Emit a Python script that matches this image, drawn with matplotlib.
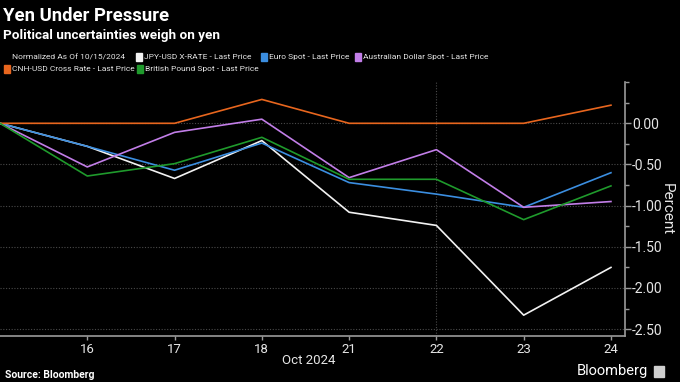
import matplotlib
matplotlib.use("Agg")
import matplotlib.pyplot as plt
from matplotlib.patches import Rectangle

plt.rcParams["font.family"] = ["Roboto", "DejaVu Sans"]

# ─── Data ────────────────────────────────────────────────────────────────────
days = ["15", "16", "17", "18", "21", "22", "23", "24"]
jpy = [0.0, -0.28, -0.67, -0.21, -1.08, -1.24, -2.33, -1.75]
eur = [0.0, -0.28, -0.57, -0.24, -0.72, -0.86, -1.02, -0.60]
aud = [0.0, -0.53, -0.11, 0.05, -0.66, -0.32, -1.02, -0.95]
cnh = [0.0, 0.0, 0.0, 0.29, 0.0, 0.0, 0.0, 0.22]
gbp = [0.0, -0.64, -0.49, -0.17, -0.68, -0.68, -1.17, -0.76]
yticks = [0.0, -0.5, -1.0, -1.5, -2.0, -2.5]

BG = "#000000"
TXT = "#e6e6e6"
GRID = "#4a4a4a"
SPINE = "#9a9a9a"

series = [
    ("JPY-USD X-RATE - Last Price", jpy, "#f2f2f2"),
    ("Euro Spot - Last Price", eur, "#3b8ee0"),
    ("Australian Dollar Spot - Last Price", aud, "#c27ee8"),
    ("CNH-USD Cross Rate - Last Price", cnh, "#e8661e"),
    ("British Pound Spot - Last Price", gbp, "#1f9a2c"),
]

fig = plt.figure(figsize=(6.8, 3.82), dpi=100)
fig.patch.set_facecolor(BG)
ax = fig.add_axes([0.0, 0.12, 0.919, 0.665])
ax.set_facecolor(BG)

x = list(range(len(days)))
for name, vals, col in series:
    ax.plot(x, vals, color=col, linewidth=1.2)

ax.set_xlim(0, 7.16)
ax.set_ylim(-2.585, 0.5)

# grid
for y in yticks:
    ax.axhline(y, color=GRID, linewidth=0.8, linestyle=(0, (1, 1.5)), zorder=0)
ax.axvline(5, color=GRID, linewidth=0.8, linestyle=(0, (1, 1.5)), zorder=0)

# axes styling
for s in ["top", "left"]:
    ax.spines[s].set_visible(False)
for s in ["right", "bottom"]:
    ax.spines[s].set_color(SPINE)
    ax.spines[s].set_linewidth(1.2)

ax.yaxis.tick_right()
ax.yaxis.set_label_position("right")
ax.set_yticks(yticks)
ax.set_yticklabels([f"{v:.2f}" for v in yticks])
ax.set_yticks([0.5, 0.25, -0.25, -0.75, -1.25, -1.75, -2.25], minor=True)
ax.tick_params(axis="y", which="major", colors=SPINE, labelcolor=TXT,
               labelsize=10, length=4, width=1, pad=1)
ax.tick_params(axis="y", which="minor", colors=SPINE, length=3, width=1)

ax.set_xticks(x[1:])
ax.set_xticklabels(days[1:])
ax.tick_params(axis="x", colors=SPINE, labelcolor=TXT, labelsize=9.5,
               length=3, width=1, pad=2)
ax.set_ylabel("Percent", color=TXT, fontsize=11, rotation=270, va="center")
ax.yaxis.set_label_coords(1.067, 0.5)

# ─── Texts ───────────────────────────────────────────────────────────────────
fig.text(0.004, 0.957, "Yen Under Pressure", color="white", fontsize=13.3,
         fontweight="bold", va="center", ha="left")
fig.text(0.004, 0.907, "Political uncertainties weigh on yen", color="white",
         fontsize=9.7, fontweight="bold", va="center", ha="left")

leg_fs = 6.0
fig.text(12 / 680, 1 - 57 / 382, "Normalized As Of 10/15/2024", color=TXT,
         fontsize=leg_fs, va="center", ha="left")
legend_pos = [(136, 57), (261, 57), (355, 57), (4, 69), (137, 69)]
for (name, vals, col), (px, py) in zip(series, legend_pos):
    fig.patches.append(Rectangle((px / 680, 1 - (py + 3.5) / 382), 6 / 680, 7 / 382,
                                 transform=fig.transFigure, color=col))
    fig.text((px + 8) / 680, 1 - py / 382, name, color=TXT, fontsize=leg_fs,
             va="center", ha="left")

fig.text(335 / 680, 1 - 360 / 382, "Oct 2024", color=TXT, fontsize=9.5,
         ha="right", va="center")
fig.text(5 / 680, 1 - 375 / 382, "Source: Bloomberg", color="white", fontsize=7.5,
         fontweight="bold", ha="left", va="center")
fig.text(648 / 680, 1 - 371 / 382, "Bloomberg", color="white", fontsize=10.5,
         ha="right", va="center")
fig.patches.append(Rectangle((654 / 680, 1 - 377 / 382), 10 / 680, 11 / 382,
                             transform=fig.transFigure, color="#cfcfcf"))

fig.savefig("out.png", dpi=100, facecolor=BG)
